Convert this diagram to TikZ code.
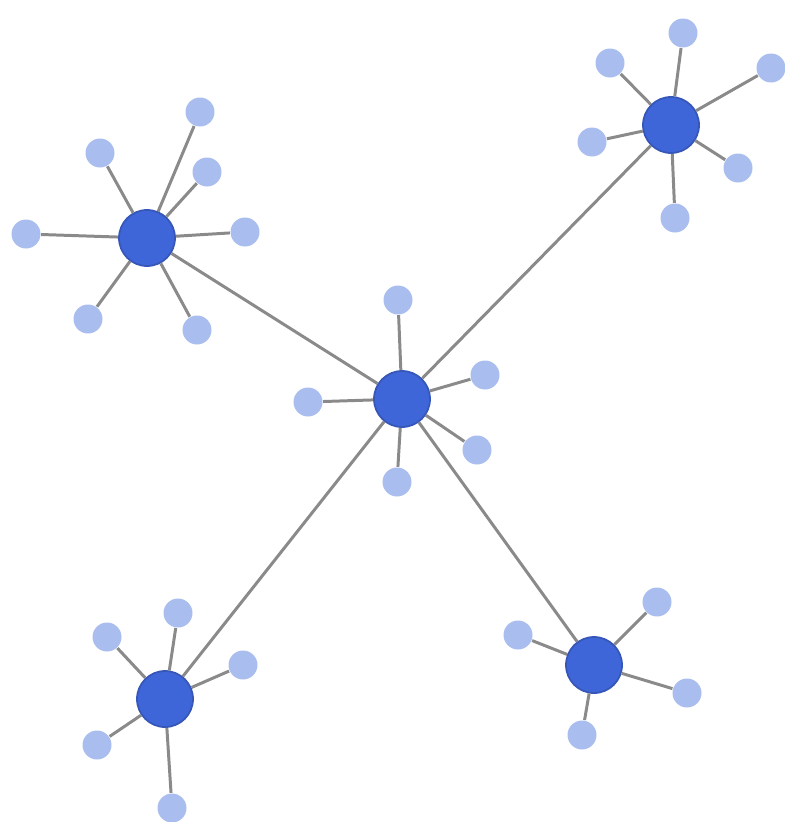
\documentclass[tikz,border=0pt]{standalone}
\definecolor{hubblue}{HTML}{3F66D8}
\definecolor{leafblue}{HTML}{A9BDEE}
\definecolor{linkgray}{HTML}{8A8A8A}

\begin{document}
\begin{tikzpicture}[x=0.1mm,y=-0.1mm,
  hub/.style={circle,fill=hubblue,draw=hubblue!85!black,line width=0.5pt,minimum size=5.6mm,inner sep=0pt},
  leaf/.style={circle,fill=leafblue,minimum size=2.9mm,inner sep=0pt},
  link/.style={draw=linkgray,line width=0.85pt}]

\useasboundingbox (0,0) rectangle (784,822);

% hubs
\node[hub] (c) at (402,399) {};
\node[hub] (tl) at (147,238) {};
\node[hub] (tr) at (671,125) {};
\node[hub] (bl) at (165,699) {};
\node[hub] (br) at (594,665) {};

% hub links
\draw[link] (c) -- (tl);
\draw[link] (c) -- (tr);
\draw[link] (c) -- (bl);
\draw[link] (c) -- (br);

% leaves of the centre hub
\foreach \i/\x/\y in {1/398/300, 2/485/375, 3/308/402, 4/477/450, 5/397/482} {
  \node[leaf] (c\i) at (\x,\y) {};
  \draw[link] (c) -- (c\i);
}

% leaves of the top-left hub
\foreach \i/\x/\y in {1/200/112, 2/100/153, 3/207/172, 4/26/234, 5/245/232, 6/88/319, 7/197/330} {
  \node[leaf] (tl\i) at (\x,\y) {};
  \draw[link] (tl) -- (tl\i);
}

% leaves of the top-right hub
\foreach \i/\x/\y in {1/683/33, 2/610/63, 3/771/68, 4/592/142, 5/738/168, 6/675/218} {
  \node[leaf] (tr\i) at (\x,\y) {};
  \draw[link] (tr) -- (tr\i);
}

% leaves of the bottom-left hub
\foreach \i/\x/\y in {1/178/613, 2/107/637, 3/243/665, 4/97/745, 5/172/808} {
  \node[leaf] (bl\i) at (\x,\y) {};
  \draw[link] (bl) -- (bl\i);
}

% leaves of the bottom-right hub
\foreach \i/\x/\y in {1/657/602, 2/518/635, 3/687/693, 4/582/735} {
  \node[leaf] (br\i) at (\x,\y) {};
  \draw[link] (br) -- (br\i);
}

\end{tikzpicture}
\end{document}
